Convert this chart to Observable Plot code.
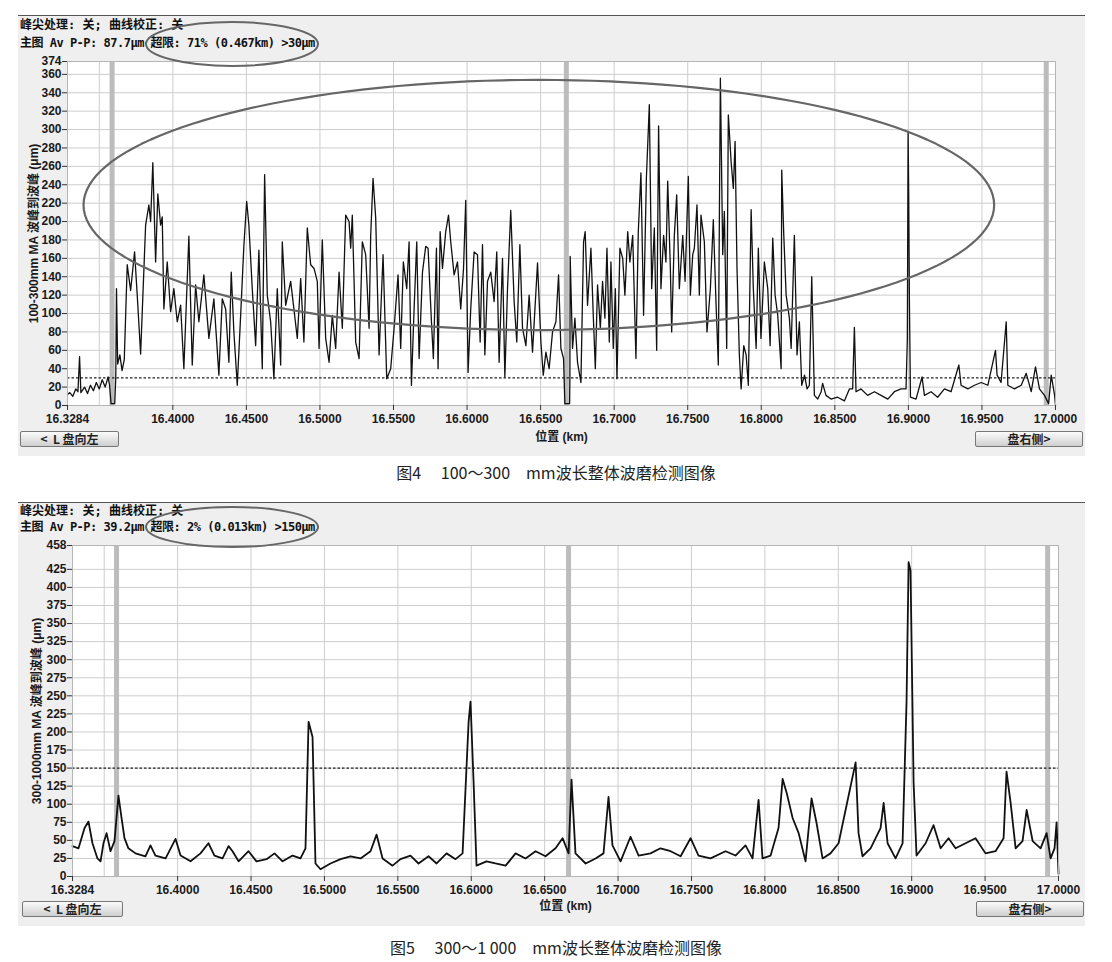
<!DOCTYPE html>
<html><head><meta charset="utf-8">
<script src="https://cdn.jsdelivr.net/npm/d3@7"></script>
<script src="https://cdn.jsdelivr.net/npm/@observablehq/plot@0.6"></script>
<style>
body{margin:0;background:#fff;}
#root{position:relative;width:1112px;height:962px;overflow:hidden;font-family:"Liberation Sans","Noto Sans CJK SC",sans-serif;}
.panel{position:absolute;left:18px;width:1067px;background:#efefef;border-top:1.5px solid #555;}
.hdr{position:absolute;left:20px;font-family:"DejaVu Sans Mono","Noto Sans CJK SC",monospace;font-size:12px;font-weight:bold;color:#111;white-space:pre;line-height:14px;}
.btn{position:absolute;height:14px;border:1px solid #777;border-radius:2px;background:linear-gradient(#fbfbfb,#cfcfcf);font:bold 12px "Noto Sans CJK SC",sans-serif;line-height:14px;color:#222;box-sizing:content-box;white-space:pre;}
.cap{position:absolute;left:0;width:1112px;text-align:center;font:16px "Noto Sans CJK SC",sans-serif;color:#222;white-space:pre;}
.plot{position:absolute;left:0;}
#ov{position:absolute;left:0;top:0;pointer-events:none;}
</style></head>
<body><div id="root"></div>
<script>
// ---------- data ----------
const X_DOMAIN = [16.3284, 17.0000];
const X_TICKS = [16.3284, 16.40, 16.45, 16.50, 16.55, 16.60, 16.65, 16.70, 16.75, 16.80, 16.85, 16.90, 16.95, 17.00];
const GRID_KM = [16.35, 16.40, 16.45, 16.50, 16.55, 16.60, 16.65, 16.70, 16.75, 16.80, 16.85, 16.90, 16.95];

// Figure 4: 100-300 mm
const Y1_TICKS = [0,20,40,60,80,100,120,140,160,180,200,220,240,260,280,300,320,340,360,374];
const Y1_MAX = 374;
const LIMIT1 = 30;
const BANDS1 = [16.3587, 16.6675, 16.9937];
const KM1 = [16.3284,16.3300,16.3320,16.3340,16.3355,16.3366,16.3375,16.3400,16.3420,16.3440,16.3460,16.3480,16.3500,16.3520,16.3540,16.3560,16.3570,16.3580,16.3605,16.3612,16.3617,16.3625,16.3640,16.3655,16.3670,16.3690,16.3713,16.3740,16.3758,16.3781,16.3815,16.3837,16.3849,16.3864,16.3883,16.3898,16.3917,16.3928,16.3939,16.3962,16.3985,16.4007,16.4030,16.4053,16.4075,16.4109,16.4132,16.4155,16.4177,16.4211,16.4245,16.4279,16.4313,16.4336,16.4359,16.4381,16.4397,16.4415,16.4438,16.4461,16.4483,16.4502,16.4517,16.4540,16.4563,16.4585,16.4608,16.4624,16.4642,16.4665,16.4687,16.4710,16.4733,16.4744,16.4767,16.4801,16.4823,16.4846,16.4869,16.4891,16.4914,16.4937,16.4960,16.4982,16.4994,16.5016,16.5039,16.5062,16.5084,16.5107,16.5130,16.5152,16.5175,16.5198,16.5209,16.5220,16.5243,16.5266,16.5288,16.5311,16.5334,16.5345,16.5361,16.5379,16.5402,16.5429,16.5454,16.5481,16.5504,16.5531,16.5549,16.5567,16.5590,16.5606,16.5622,16.5640,16.5658,16.5674,16.5697,16.5719,16.5735,16.5758,16.5771,16.5792,16.5803,16.5817,16.5833,16.5855,16.5874,16.5889,16.5912,16.5935,16.5957,16.5976,16.5991,16.6007,16.6025,16.6048,16.6071,16.6089,16.6105,16.6121,16.6139,16.6161,16.6184,16.6202,16.6218,16.6241,16.6257,16.6275,16.6297,16.6320,16.6338,16.6359,16.6377,16.6400,16.6422,16.6445,16.6479,16.6502,16.6518,16.6536,16.6558,16.6581,16.6604,16.6622,16.6638,16.6656,16.6665,16.6683,16.6697,16.6699,16.6701,16.6717,16.6733,16.6751,16.6774,16.6792,16.6803,16.6819,16.6842,16.6858,16.6872,16.6887,16.6906,16.6921,16.6937,16.6951,16.6967,16.6978,16.6994,16.7008,16.7019,16.7039,16.7058,16.7073,16.7092,16.7107,16.7126,16.7148,16.7164,16.7182,16.7200,16.7219,16.7239,16.7255,16.7273,16.7289,16.7302,16.7318,16.7336,16.7352,16.7364,16.7382,16.7391,16.7409,16.7425,16.7443,16.7466,16.7482,16.7504,16.7518,16.7534,16.7545,16.7563,16.7579,16.7590,16.7613,16.7631,16.7654,16.7674,16.7692,16.7708,16.7722,16.7738,16.7749,16.7765,16.7776,16.7795,16.7810,16.7822,16.7835,16.7851,16.7863,16.7881,16.7897,16.7912,16.7931,16.7946,16.7965,16.7980,16.7998,16.8021,16.8044,16.8060,16.8078,16.8094,16.8112,16.8135,16.8139,16.8153,16.8169,16.8191,16.8203,16.8225,16.8243,16.8259,16.8275,16.8294,16.8311,16.8327,16.8343,16.8361,16.8384,16.8407,16.8417,16.8440,16.8474,16.8519,16.8565,16.8599,16.8621,16.8633,16.8644,16.8678,16.8723,16.8769,16.8814,16.8860,16.8905,16.8950,16.8984,16.8993,16.8998,16.9002,16.9007,16.9014,16.9052,16.9093,16.9109,16.9154,16.9199,16.9245,16.9290,16.9343,16.9358,16.9404,16.9449,16.9495,16.9540,16.9592,16.9603,16.9630,16.9665,16.9676,16.9721,16.9767,16.9801,16.9835,16.9864,16.9891,16.9925,16.9953,16.9971,16.9994,17.0000];
const UM1 = [12,14,10,18,15,53,14,20,13,22,16,25,18,28,20,31,22,2,2,30,127,45,55,38,50,153,125,167,120,56,196,218,200,264,156,230,196,205,105,156,102,127,91,109,40,184,44,131,91,142,73,116,33,116,105,47,145,80,22,98,174,222,196,127,65,169,40,251,120,91,29,127,44,178,109,135,105,73,138,69,193,153,149,135,62,180,73,47,98,62,145,84,207,200,171,207,69,51,178,164,84,185,247,204,55,164,29,40,84,142,62,156,127,178,22,105,178,51,145,173,171,91,51,171,40,189,149,189,207,178,142,156,105,149,223,36,105,167,164,69,175,55,135,145,113,167,47,160,31,127,212,113,69,175,84,65,120,58,155,69,33,58,40,80,91,142,62,51,2,2,2,30,162,62,95,47,25,178,189,109,171,98,40,131,84,135,95,171,69,156,62,127,29,171,160,120,189,156,185,51,189,253,98,247,327,127,193,60,304,127,185,156,244,149,80,185,229,127,185,135,249,120,164,171,218,120,207,178,80,127,202,113,44,356,164,211,62,316,265,236,287,149,55,18,65,55,22,213,127,62,171,73,156,127,65,182,120,98,40,256,185,120,95,62,185,55,91,22,33,18,22,140,11,7,15,24,11,7,9,5,18,18,85,15,18,11,15,11,7,15,18,18,73,298,233,113,9,7,31,11,15,9,18,15,44,22,18,22,25,22,60,33,25,91,22,18,22,35,15,42,18,11,2,33,11,0];
const ELLIPSE1 = {cx: 16.6488, rx: 0.3095, cy: 218, ry: 136};

// Figure 5: 300-1000 mm
const Y2_TICKS = [0,25,50,75,100,125,150,175,200,225,250,275,300,325,350,375,400,425,458];
const Y2_MAX = 458;
const LIMIT2 = 150;
const BANDS2 = [16.3584, 16.6663, 16.9926];
const KM2 = [16.3284,16.3325,16.3366,16.3393,16.3420,16.3454,16.3475,16.3495,16.3516,16.3543,16.3570,16.3597,16.3618,16.3638,16.3665,16.3713,16.3781,16.3815,16.3849,16.3918,16.3986,16.4020,16.4088,16.4156,16.4210,16.4251,16.4306,16.4347,16.4374,16.4415,16.4483,16.4537,16.4606,16.4660,16.4715,16.4783,16.4837,16.4871,16.4892,16.4919,16.4939,16.4973,16.5041,16.5110,16.5178,16.5246,16.5314,16.5355,16.5396,16.5464,16.5518,16.5586,16.5641,16.5709,16.5764,16.5832,16.5893,16.5941,16.5982,16.5995,16.6016,16.6036,16.6104,16.6165,16.6234,16.6302,16.6370,16.6438,16.6506,16.6574,16.6622,16.6663,16.6683,16.6710,16.6779,16.6847,16.6901,16.6935,16.6962,16.7017,16.7085,16.7140,16.7221,16.7289,16.7358,16.7426,16.7494,16.7548,16.7630,16.7732,16.7800,16.7868,16.7916,16.7957,16.7984,16.8039,16.8093,16.8121,16.8148,16.8189,16.8230,16.8277,16.8318,16.8352,16.8393,16.8447,16.8502,16.8618,16.8638,16.8665,16.8720,16.8788,16.8809,16.8836,16.8890,16.8938,16.8965,16.8979,16.8992,16.9013,16.9033,16.9095,16.9149,16.9197,16.9251,16.9299,16.9367,16.9435,16.9503,16.9571,16.9626,16.9646,16.9674,16.9708,16.9755,16.9783,16.9824,16.9878,16.9919,16.9946,16.9973,16.9987,17.0000];
const UM2 = [42,39,67,76,46,25,21,46,60,35,49,112,81,53,39,32,28,43,29,25,52,29,21,32,46,29,25,42,35,21,35,21,24,32,21,29,25,39,214,193,18,10,18,24,28,25,35,58,25,15,24,29,18,28,18,32,24,32,214,242,130,15,21,18,15,32,25,35,28,39,53,32,134,32,18,25,32,110,43,21,55,29,32,39,35,28,53,29,25,35,29,43,25,106,25,29,67,135,116,81,60,21,108,74,25,32,46,158,60,28,39,67,102,46,25,46,242,435,423,130,29,46,71,39,53,39,46,53,32,35,53,145,102,39,49,92,49,39,60,25,39,75,4];

// ---------- layout helpers ----------
const root = document.getElementById("root");
function el(tag, cls, css, text) {
  const e = document.createElement(tag);
  if (cls) e.className = cls;
  Object.assign(e.style, css || {});
  if (text != null) e.textContent = text;
  root.appendChild(e);
  return e;
}

function ellipsePoints(E) {
  const pts = [];
  for (let i = 0; i <= 160; i++) {
    const t = (i / 160) * 2 * Math.PI;
    pts.push({x: E.cx + E.rx * Math.cos(t), y: E.cy + E.ry * Math.sin(t)});
  }
  return pts;
}

function chart(o) {
  const data = o.km.map((k, i) => ({k, v: o.um[i]}));
  const marks = [
    Plot.frame({fill: "#ffffff", stroke: "none"}),
    Plot.gridX(GRID_KM, {stroke: "#cdcdcd", strokeOpacity: 1}),
    Plot.gridY(o.yTicks.filter(v => v > 0 && v < o.yMax), {stroke: "#cdcdcd", strokeOpacity: 1}),
    Plot.ruleX(o.bands, {stroke: "#bcbcbc", strokeWidth: 5}),
    Plot.ruleY([o.limit], {stroke: "#222", strokeDasharray: "2.5,2", strokeWidth: 1.1}),
    Plot.line(data, {x: "k", y: "v", stroke: "#111", strokeWidth: o.lw, strokeLinejoin: "round"}),
    Plot.frame({stroke: "#b5b5b5"}),
    Plot.axisY(o.yTicks, {tickSize: 5, tickPadding: 1, stroke: "#333", fontSize: 12, label: o.yLabel, labelAnchor: "center", labelOffset: o.yLabelOffset, labelArrow: false}),
    Plot.axisX(X_TICKS, {tickSize: 5, tickPadding: 4, stroke: "#333", fontSize: 12, tickFormat: d3.format(".4f"), label: "位置 (km)", labelAnchor: "center", labelOffset: o.xLabelOffset, labelArrow: false})
  ];
  if (o.ellipse) marks.push(Plot.line(ellipsePoints(o.ellipse), {x: "x", y: "y", stroke: "#666", strokeWidth: 2.2}));
  return Plot.plot({
    width: 1112, height: o.height,
    marginLeft: o.mL, marginRight: o.mR, marginTop: o.mT, marginBottom: o.mB,
    x: {domain: X_DOMAIN},
    y: {domain: [0, o.yMax]},
    style: {background: "transparent", fontFamily: "'Liberation Sans','Noto Sans CJK SC',sans-serif", fontSize: "11.5px", fontWeight: "bold", color: "#1a1a1a", overflow: "visible"},
    marks
  });
}

// ---------- panel 1 ----------
el("div", "panel", {top: "15px", height: "440px"});
el("div", "hdr", {top: "18px"}, "峰尖处理: 关; 曲线校正: 关");
el("div", "hdr", {top: "36px", letterSpacing: "-0.5px"}, "主图 Av P-P: 87.7μm 超限: 71% (0.467km) >30μm");
const p1 = chart({km: KM1, um: UM1, yTicks: Y1_TICKS, yMax: Y1_MAX, limit: LIMIT1, bands: BANDS1,
  yLabel: "100-300mm MA 波峰到波峰 (μm)", ellipse: ELLIPSE1, lw: 1.3,
  height: 400, mL: 67, mR: 57, mT: 11, mB: 45, yLabelOffset: 38, xLabelOffset: 35});
p1.classList.add("plot"); p1.style.top = "50px"; root.appendChild(p1);
el("div", "btn", {left: "20px", top: "431px", width: "97px", textAlign: "center"}, "<  L 盘向左");
el("div", "btn", {left: "975px", top: "431px", width: "106px", textAlign: "center"}, "盘右侧>");
el("div", "cap", {top: "460px"}, "图4　 100～300　mm波长整体波磨检测图像");

// ---------- panel 2 ----------
el("div", "panel", {top: "502px", height: "423px"});
el("div", "hdr", {top: "504px"}, "峰尖处理: 关; 曲线校正: 关");
el("div", "hdr", {top: "520px", letterSpacing: "-0.5px"}, "主图 Av P-P: 39.2μm 超限: 2% (0.013km) >150μm");
const p2 = chart({km: KM2, um: UM2, yTicks: Y2_TICKS, yMax: Y2_MAX, limit: LIMIT2, bands: BANDS2,
  yLabel: "300-1000mm MA 波峰到波峰 (μm)", ellipse: null, lw: 1.8,
  height: 386, mL: 72, mR: 54, mT: 10, mB: 45, yLabelOffset: 40, xLabelOffset: 33});
p2.classList.add("plot"); p2.style.top = "535px"; root.appendChild(p2);
el("div", "btn", {left: "22px", top: "901px", width: "99px", textAlign: "center"}, "<  L 盘向左");
el("div", "btn", {left: "976px", top: "901px", width: "106px", textAlign: "center"}, "盘右侧>");
el("div", "cap", {top: "935px"}, "图5　 300～1 000　mm波长整体波磨检测图像");

// ---------- header ellipses (annotations) ----------
const ov = d3.select(root).append("svg").attr("id", "ov").attr("width", 1112).attr("height", 962);
ov.append("ellipse").attr("cx", 232).attr("cy", 44).attr("rx", 86).attr("ry", 22)
  .attr("fill", "none").attr("stroke", "#666").attr("stroke-width", 2);
ov.append("ellipse").attr("cx", 232).attr("cy", 527).attr("rx", 86).attr("ry", 20)
  .attr("fill", "none").attr("stroke", "#666").attr("stroke-width", 2);
</script></body></html>
